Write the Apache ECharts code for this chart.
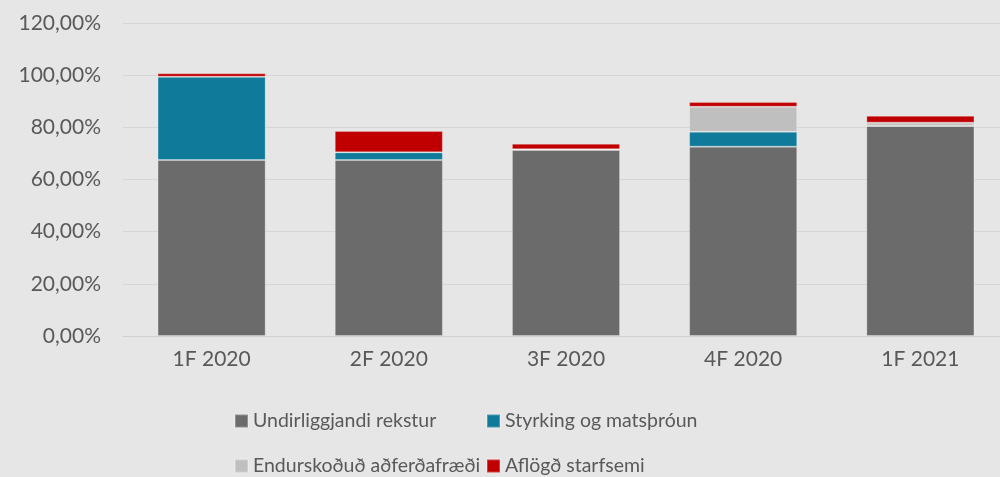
<!DOCTYPE html>
<html>
<head>
<meta charset="utf-8">
<script src="https://cdn.jsdelivr.net/npm/echarts@6/dist/echarts.min.js"></script>
<style>
  html, body { margin: 0; padding: 0; background: #e6e6e6; }
  #chart { width: 1000px; height: 477px; }
</style>
</head>
<body>
<div id="chart"></div>
<script>
// periods on the x axis
const periods = ['1F 2020', '2F 2020', '3F 2020', '4F 2020', '1F 2021'];
// stacked components, in percent
const undirliggjandi = [67.5, 67.5, 71.3, 72.6, 80.5];
const styrking = [31.9, 2.9, 0.3, 5.7, 0];
const endurskodud = [0, 0, 0, 9.6, 1.3];
const aflogd = [1.3, 8.2, 2.1, 1.8, 2.6];

const seriesNames = ['Undirliggjandi rekstur', 'Styrking og matsþróun', 'Endurskoðuð aðferðafræði', 'Aflögð starfsemi'];
const seriesData = [undirliggjandi, styrking, endurskodud, aflogd];
const colors = ['#6b6b6b', '#0f7a99', '#bfbfbf', '#c00000'];

const fontFam = 'Lato, "Open Sans", sans-serif';
const chart = echarts.init(document.getElementById('chart'));

// one legend per item so each one sits where the original put it
const legendPos = [[229, 406], [481, 406], [229, 451], [481, 451]];
const legends = seriesNames.map((n, i) => ({
  data: [n],
  left: legendPos[i][0],
  top: legendPos[i][1],
  icon: 'rect',
  itemWidth: 13,
  itemHeight: 13,
  itemGap: 6,
  textStyle: { color: '#595959', fontSize: 19.5, fontFamily: fontFam },
  selectedMode: false
}));

const option = {
  backgroundColor: '#e6e6e6',
  animation: false,
  color: colors,
  legend: legends,
  // the plot runs a little past the right edge, as in the original crop
  grid: { left: 123, width: 886, top: 23, bottom: 141, outerBoundsMode: 'none', containLabel: false },
  xAxis: {
    type: 'category',
    data: periods,
    axisLine: { lineStyle: { color: '#d0d0d0' } },
    axisTick: { show: false },
    axisLabel: { color: '#595959', fontSize: 21, fontFamily: fontFam, margin: 13 }
  },
  yAxis: {
    type: 'value',
    min: 0,
    max: 120,
    interval: 20,
    axisLine: { show: false },
    axisTick: { show: false },
    splitLine: { lineStyle: { color: '#d6d6d6', width: 1 } },
    axisLabel: {
      color: '#595959', fontSize: 21, fontFamily: fontFam, margin: 22,
      formatter: v => v.toFixed(2).replace('.', ',') + '%'
    }
  },
  series: seriesData.map((d, i) => ({
    name: seriesNames[i],
    type: 'bar',
    stack: 'total',
    data: d,
    barWidth: '61%',
    itemStyle: { color: colors[i], borderColor: 'rgba(255,255,255,0.25)', borderWidth: 1 }
  }))
};

chart.setOption(option);
</script>
</body>
</html>
